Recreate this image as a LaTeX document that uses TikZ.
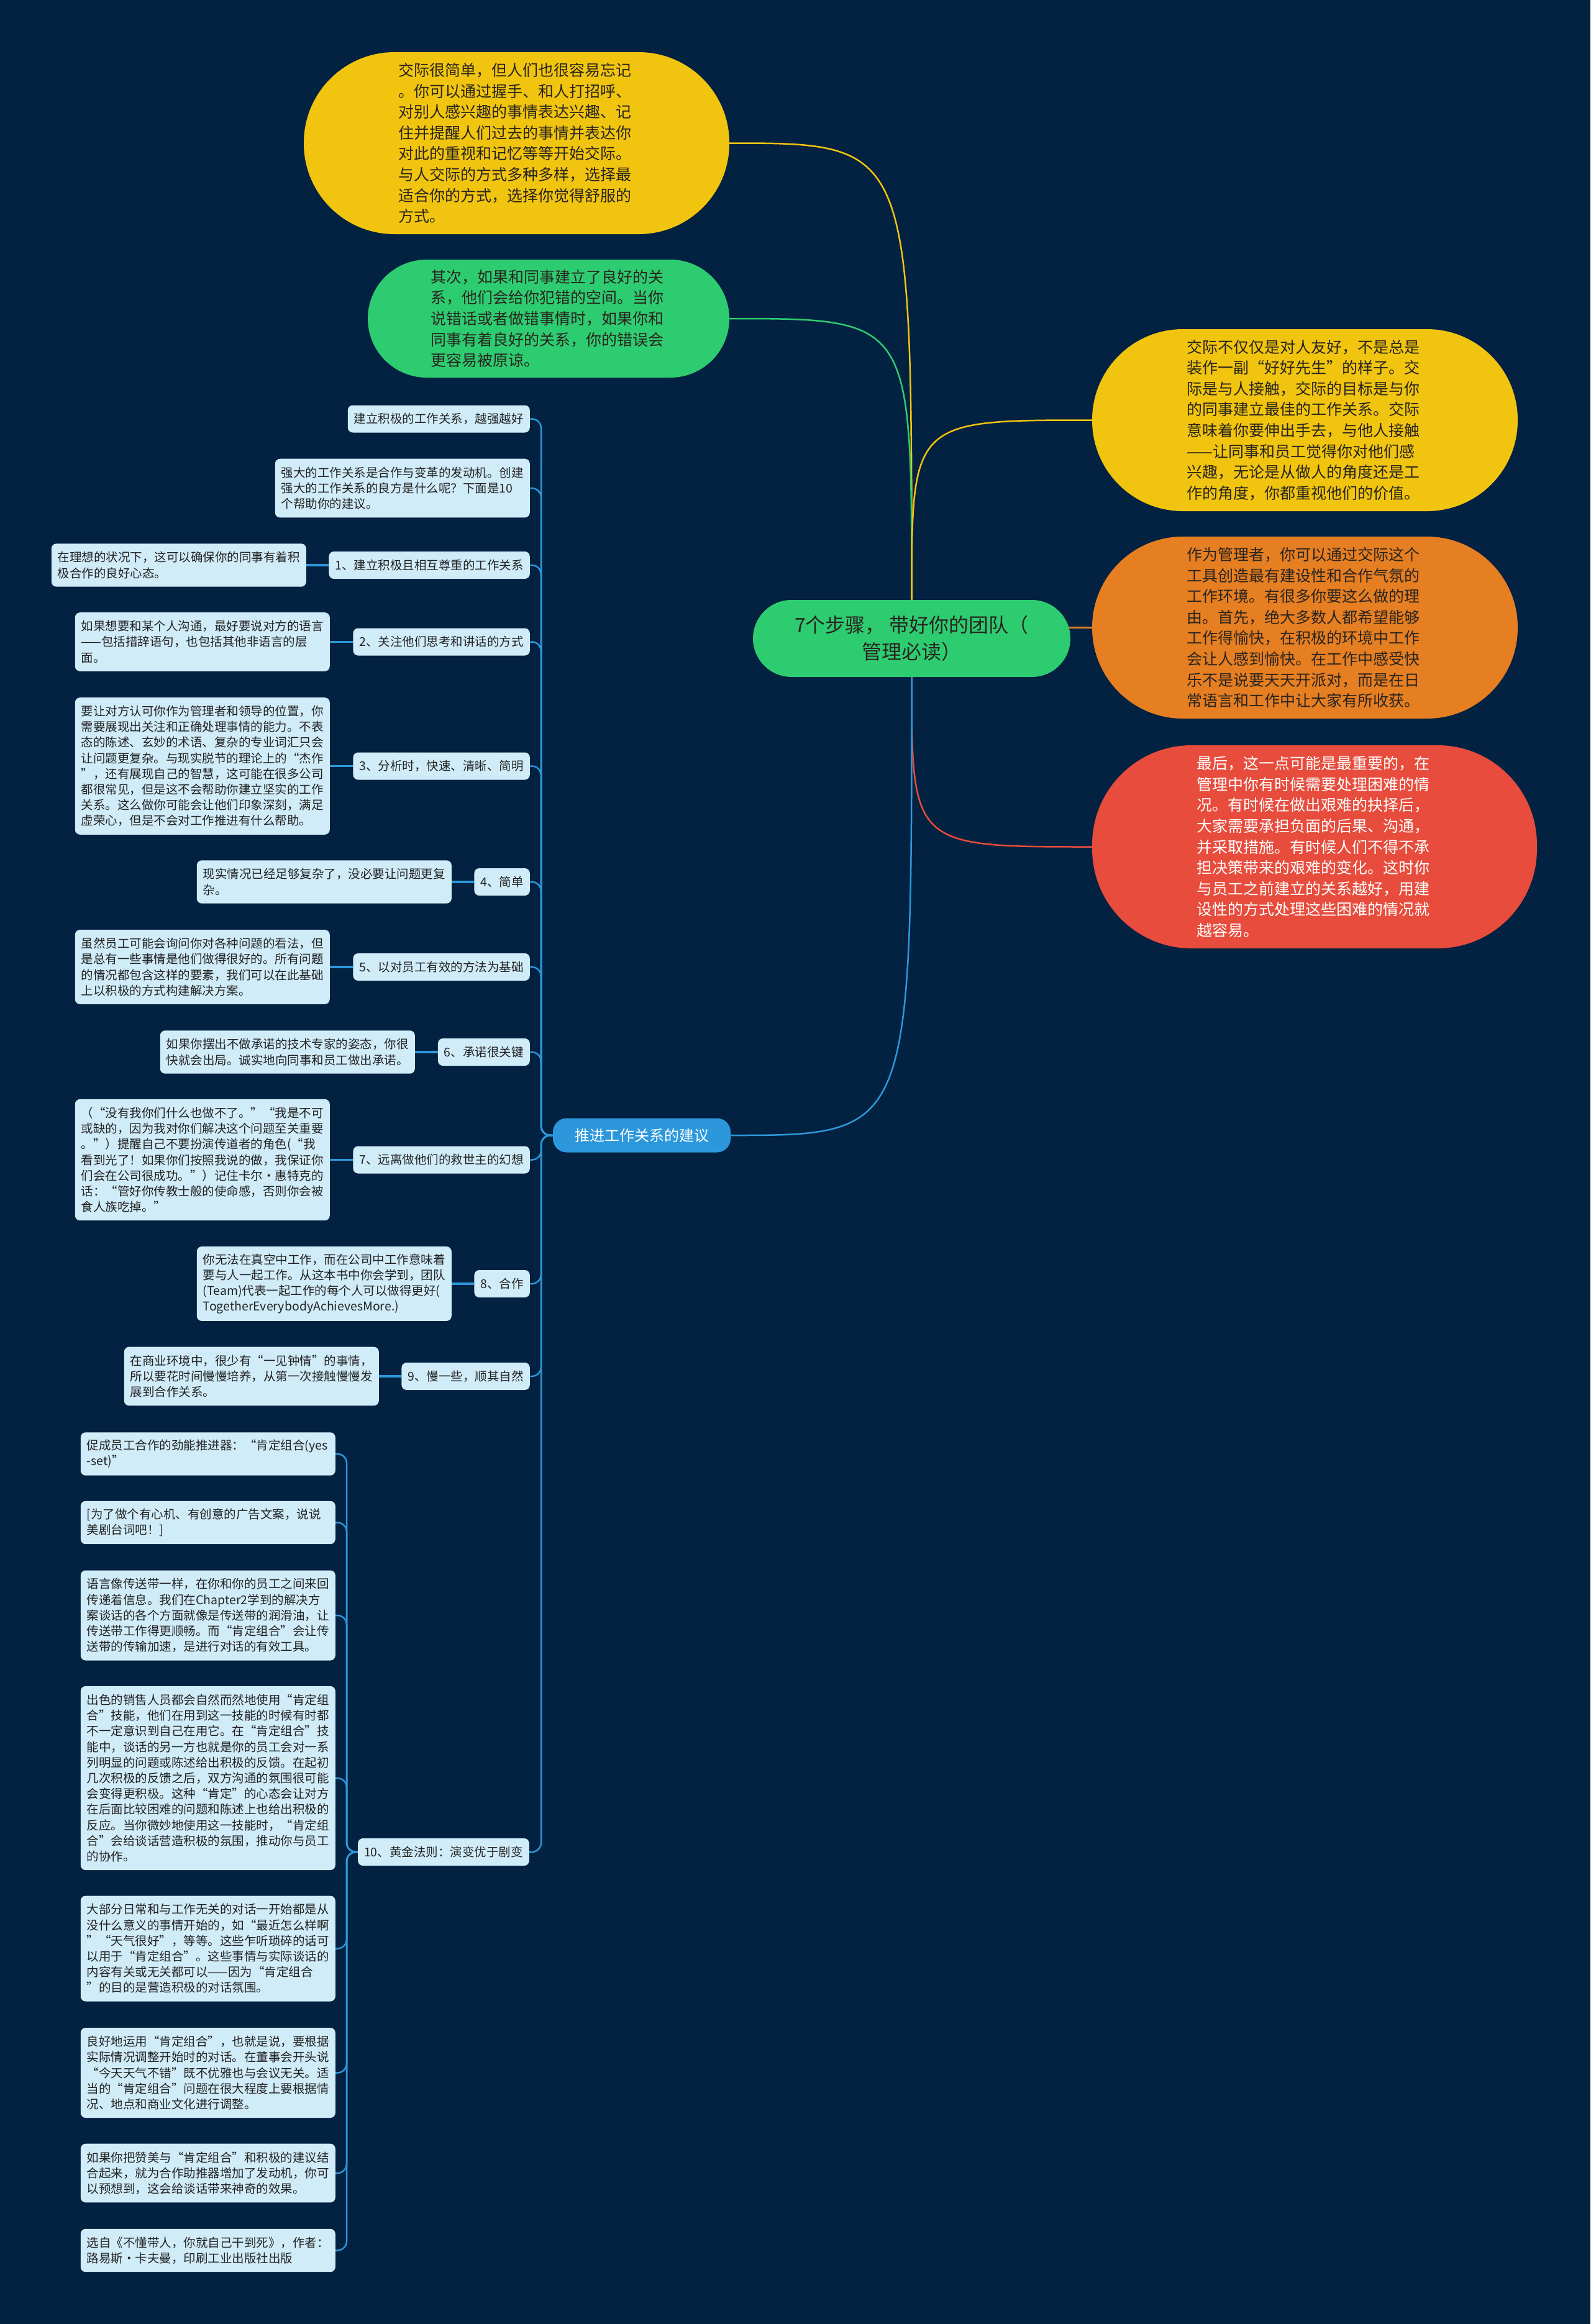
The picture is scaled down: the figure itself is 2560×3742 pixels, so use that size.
\documentclass[tikz,border=0pt]{standalone}
\usepackage{fontspec}
\setmainfont{Noto Sans CJK SC}
\usetikzlibrary{calc}
\definecolor{bgc}{RGB}{3,33,64}
\definecolor{lblue}{RGB}{209,236,249}
\definecolor{mblue}{RGB}{44,152,219}
\definecolor{cyel}{RGB}{241,196,15}
\definecolor{cora}{RGB}{230,126,34}
\definecolor{cred}{RGB}{231,76,60}
\definecolor{cgrn}{RGB}{46,204,113}
\definecolor{dtext}{RGB}{34,34,34}
\definecolor{btext}{RGB}{40,36,30}
\pgfdeclarelayer{bglayer}
\pgfdeclarelayer{edgelayer}
\pgfsetlayers{bglayer,edgelayer,main}
\tikzset{
  bubble/.style={align=left, text width=380pt, inner sep=0pt, text=btext,
    font=\fontsize{25}{33.6}\selectfont},
  leaf/.style={fill=lblue, rounded corners=8pt, text=dtext, align=left,
    text width=390pt, inner xsep=10pt, inner ysep=0pt,
    font=\fontsize{19.5}{25.2}\selectfont, anchor=east},
  topic/.style={fill=lblue, rounded corners=8pt, text=dtext, inner xsep=10pt,
    inner ysep=0pt, minimum height=44pt, font=\fontsize{19.5}{25.2}\selectfont,
    anchor=east},
  trunk/.style={draw=mblue, line width=2.5pt, rounded corners=15pt},
  link/.style={draw=mblue, line width=3.5pt},
  mainedge/.style={line width=2.5pt},
}
\begin{document}
\begin{tikzpicture}[x=1pt,y=-1pt]
\useasboundingbox (0,0) rectangle (2560,3742);
\begin{pgfonlayer}{bglayer}
  \fill[bgc] (0,0) rectangle (2560,3742);
\end{pgfonlayer}

% central topic
\node[fill=cgrn, rounded corners=62pt, minimum width=511pt, minimum height=124pt,
  align=center, text=btext, inner sep=0pt, font=\fontsize{32}{43}\selectfont]
  (cen) at (1467.5,1028) {7个步骤， 带好你的团队（\\管理必读）};

% big bubbles
\node[bubble, fill=cyel, rounded corners=146pt, minimum width=685pt, minimum height=293pt]
  (ty) at (831.5,230.5) {交际很简单，但人们也很容易忘记\\。你可以通过握手、和人打招呼、\\对别人感兴趣的事情表达兴趣、记\\住并提醒人们过去的事情并表达你\\对此的重视和记忆等等开始交际。\\与人交际的方式多种多样，选择最\\适合你的方式，选择你觉得舒服的\\方式。};
\node[bubble, fill=cgrn, rounded corners=95pt, minimum width=582pt, minimum height=190pt]
  (gb) at (883,513) {其次，如果和同事建立了良好的关\\系，他们会给你犯错的空间。当你\\说错话或者做错事情时，如果你和\\同事有着良好的关系，你的错误会\\更容易被原谅。};
\node[bubble, fill=cyel, rounded corners=146pt, minimum width=685pt, minimum height=293pt]
  (ry) at (2100.5,676.5) {交际不仅仅是对人友好，不是总是\\装作一副“好好先生”的样子。交\\际是与人接触，交际的目标是与你\\的同事建立最佳的工作关系。交际\\意味着你要伸出手去，与他人接触\\——让同事和员工觉得你对他们感\\兴趣，无论是从做人的角度还是工\\作的角度，你都重视他们的价值。};
\node[bubble, fill=cora, rounded corners=146pt, minimum width=685pt, minimum height=293pt]
  (ob) at (2100.5,1010.5) {作为管理者，你可以通过交际这个\\工具创造最有建设性和合作气氛的\\工作环境。有很多你要这么做的理\\由。首先，绝大多数人都希望能够\\工作得愉快，在积极的环境中工作\\会让人感到愉快。在工作中感受快\\乐不是说要天天开派对，而是在日\\常语言和工作中让大家有所收获。};
\node[bubble, fill=cred, text=white, rounded corners=160pt, minimum width=716pt, minimum height=327pt]
  (rb) at (2116,1363.5) {最后，这一点可能是最重要的，在\\管理中你有时候需要处理困难的情\\况。有时候在做出艰难的抉择后，\\大家需要承担负面的后果、沟通，\\并采取措施。有时候人们不得不承\\担决策带来的艰难的变化。这时你\\与员工之前建立的关系越好，用建\\设性的方式处理这些困难的情况就\\越容易。};

% branch node
\node[fill=mblue, text=white, rounded corners=22pt, minimum width=286pt, minimum height=55pt,
  inner sep=0pt, font=\fontsize{24}{30}\selectfont]
  (tj) at (1033,1828) {推进工作关系的建议};

% level-2 items
\node[topic] (a) at (853,674.5) {建立积极的工作关系，越强越好};
\node[leaf, minimum height=94.6pt] (b) at (853,786) {强大的工作关系是合作与变革的发动机。创建\\强大的工作关系的良方是什么呢？下面是10\\个帮助你的建议。};
\node[topic] (n1) at (853,910) {1、建立积极且相互尊重的工作关系};
\node[topic] (n2) at (853,1033.5) {2、关注他们思考和讲话的方式};
\node[topic] (n3) at (853,1233.5) {3、分析时，快速、清晰、简明};
\node[topic] (n4) at (853,1420) {4、简单};
\node[topic] (n5) at (853,1557) {5、以对员工有效的方法为基础};
\node[topic] (n6) at (853,1694) {6、承诺很关键};
\node[topic] (n7) at (853,1867.5) {7、远离做他们的救世主的幻想};
\node[topic] (n8) at (853,2067) {8、合作};
\node[topic] (n9) at (853,2216) {9、慢一些，顺其自然};
\node[topic] (n10) at (852,2982) {10、黄金法则：演变优于剧变};

% details
\node[leaf, minimum height=69.4pt] (d1) at (493,910) {在理想的状况下，这可以确保你的同事有着积\\极合作的良好心态。};
\node[leaf, minimum height=94.6pt] (d2) at (531,1033.5) {如果想要和某个人沟通，最好要说对方的语言\\——包括措辞语句，也包括其他非语言的层\\面。};
\node[leaf, minimum height=220.6pt] (d3) at (531,1233.5) {要让对方认可你作为管理者和领导的位置，你\\需要展现出关注和正确处理事情的能力。不表\\态的陈述、玄妙的术语、复杂的专业词汇只会\\让问题更复杂。与现实脱节的理论上的“杰作\\”，还有展现自己的智慧，这可能在很多公司\\都很常见，但是这不会帮助你建立坚实的工作\\关系。这么做你可能会让他们印象深刻，满足\\虚荣心，但是不会对工作推进有什么帮助。};
\node[leaf, minimum height=69.4pt] (d4) at (727,1420) {现实情况已经足够复杂了，没必要让问题更复\\杂。};
\node[leaf, minimum height=119.8pt] (d5) at (531,1557) {虽然员工可能会询问你对各种问题的看法，但\\是总有一些事情是他们做得很好的。所有问题\\的情况都包含这样的要素，我们可以在此基础\\上以积极的方式构建解决方案。};
\node[leaf, minimum height=69.4pt] (d6) at (668,1694) {如果你摆出不做承诺的技术专家的姿态，你很\\快就会出局。诚实地向同事和员工做出承诺。};
\node[leaf, minimum height=195.4pt] (d7) at (531,1867.5) {（“没有我你们什么也做不了。”“我是不可\\或缺的，因为我对你们解决这个问题至关重要\\。”）提醒自己不要扮演传道者的角色(“我\\看到光了！如果你们按照我说的做，我保证你\\们会在公司很成功。”）记住卡尔·惠特克的\\话：“管好你传教士般的使命感，否则你会被\\食人族吃掉。”};
\node[leaf, minimum height=119.8pt] (d8) at (727,2067) {你无法在真空中工作，而在公司中工作意味着\\要与人一起工作。从这本书中你会学到，团队\\(Team)代表一起工作的每个人可以做得更好(\\TogetherEverybodyAchievesMore.)};
\node[leaf, minimum height=94.6pt] (d9) at (610,2216) {在商业环境中，很少有“一见钟情”的事情，\\所以要花时间慢慢培养，从第一次接触慢慢发\\展到合作关系。};

% group 10 children
\node[leaf, minimum height=69.4pt] (c1) at (540,2341) {促成员工合作的劲能推进器：“肯定组合(yes\\-set)”};
\node[leaf, minimum height=69.4pt] (c2) at (540,2451.5) {{[}为了做个有心机、有创意的广告文案，说说\\美剧台词吧！{]}};
\node[leaf, minimum height=145pt] (c3) at (540,2601) {语言像传送带一样，在你和你的员工之间来回\\传递着信息。我们在Chapter2学到的解决方\\案谈话的各个方面就像是传送带的润滑油，让\\传送带工作得更顺畅。而“肯定组合”会让传\\送带的传输加速，是进行对话的有效工具。};
\node[leaf, minimum height=296.2pt] (c4) at (540,2863) {出色的销售人员都会自然而然地使用“肯定组\\合”技能，他们在用到这一技能的时候有时都\\不一定意识到自己在用它。在“肯定组合”技\\能中，谈话的另一方也就是你的员工会对一系\\列明显的问题或陈述给出积极的反馈。在起初\\几次积极的反馈之后，双方沟通的氛围很可能\\会变得更积极。这种“肯定”的心态会让对方\\在后面比较困难的问题和陈述上也给出积极的\\反应。当你微妙地使用这一技能时，“肯定组\\合”会给谈话营造积极的氛围，推动你与员工\\的协作。};
\node[leaf, minimum height=170pt] (c5) at (540,3137.5) {大部分日常和与工作无关的对话一开始都是从\\没什么意义的事情开始的，如“最近怎么样啊\\”“天气很好”，等等。这些乍听琐碎的话可\\以用于“肯定组合”。这些事情与实际谈话的\\内容有关或无关都可以——因为“肯定组合\\”的目的是营造积极的对话氛围。};
\node[leaf, minimum height=145pt] (c6) at (540,3337.5) {良好地运用“肯定组合”，也就是说，要根据\\实际情况调整开始时的对话。在董事会开头说\\“今天天气不错”既不优雅也与会议无关。适\\当的“肯定组合”问题在很大程度上要根据情\\况、地点和商业文化进行调整。};
\node[leaf, minimum height=94.6pt] (c7) at (540,3499) {如果你把赞美与“肯定组合”和积极的建议结\\合起来，就为合作助推器增加了发动机，你可\\以预想到，这会给谈话带来神奇的效果。};
\node[leaf, minimum height=69.4pt] (c8) at (540,3623.5) {选自《不懂带人，你就自己干到死》，作者：\\路易斯·卡夫曼，印刷工业出版社出版};

\coordinate (tx) at (871,0);
\coordinate (tx2) at (558,0);

\begin{pgfonlayer}{edgelayer}
  \draw[mainedge, cyel] (cen.north) .. controls (cen.north |- ty.east) .. (ty.east);
  \draw[mainedge, cgrn] (cen.north) .. controls (cen.north |- gb.east) .. (gb.east);
  \draw[mainedge, cyel] (cen.north) .. controls (cen.north |- ry.west) .. (ry.west);
  \draw[mainedge, cora] (ob.west) -- (ob.west -| cen.center);
  \draw[mainedge, cred] (cen.south) .. controls (cen.south |- rb.west) .. (rb.west);
  \draw[mainedge, mblue] (cen.south) .. controls (cen.south |- tj.east) .. (tj.east);
  \foreach \c in {a,b,n1,n2,n3,n4,n5,n6,n7,n8,n9,n10}
    \draw[trunk] (tj.west) -- (tx |- tj.west) -- (tx |- \c.east) -- (\c.east);
  \foreach \c in {c1,c2,c3,c4,c5,c6,c7,c8}
    \draw[trunk] (n10.west) -- (tx2 |- n10.west) -- (tx2 |- \c.east) -- (\c.east);
  \foreach \n/\d in {n1/d1,n2/d2,n3/d3,n4/d4,n5/d5,n6/d6,n7/d7,n8/d8,n9/d9}
    \draw[link] (\n.west) -- (\d.east);
\end{pgfonlayer}
\end{tikzpicture}
\end{document}
